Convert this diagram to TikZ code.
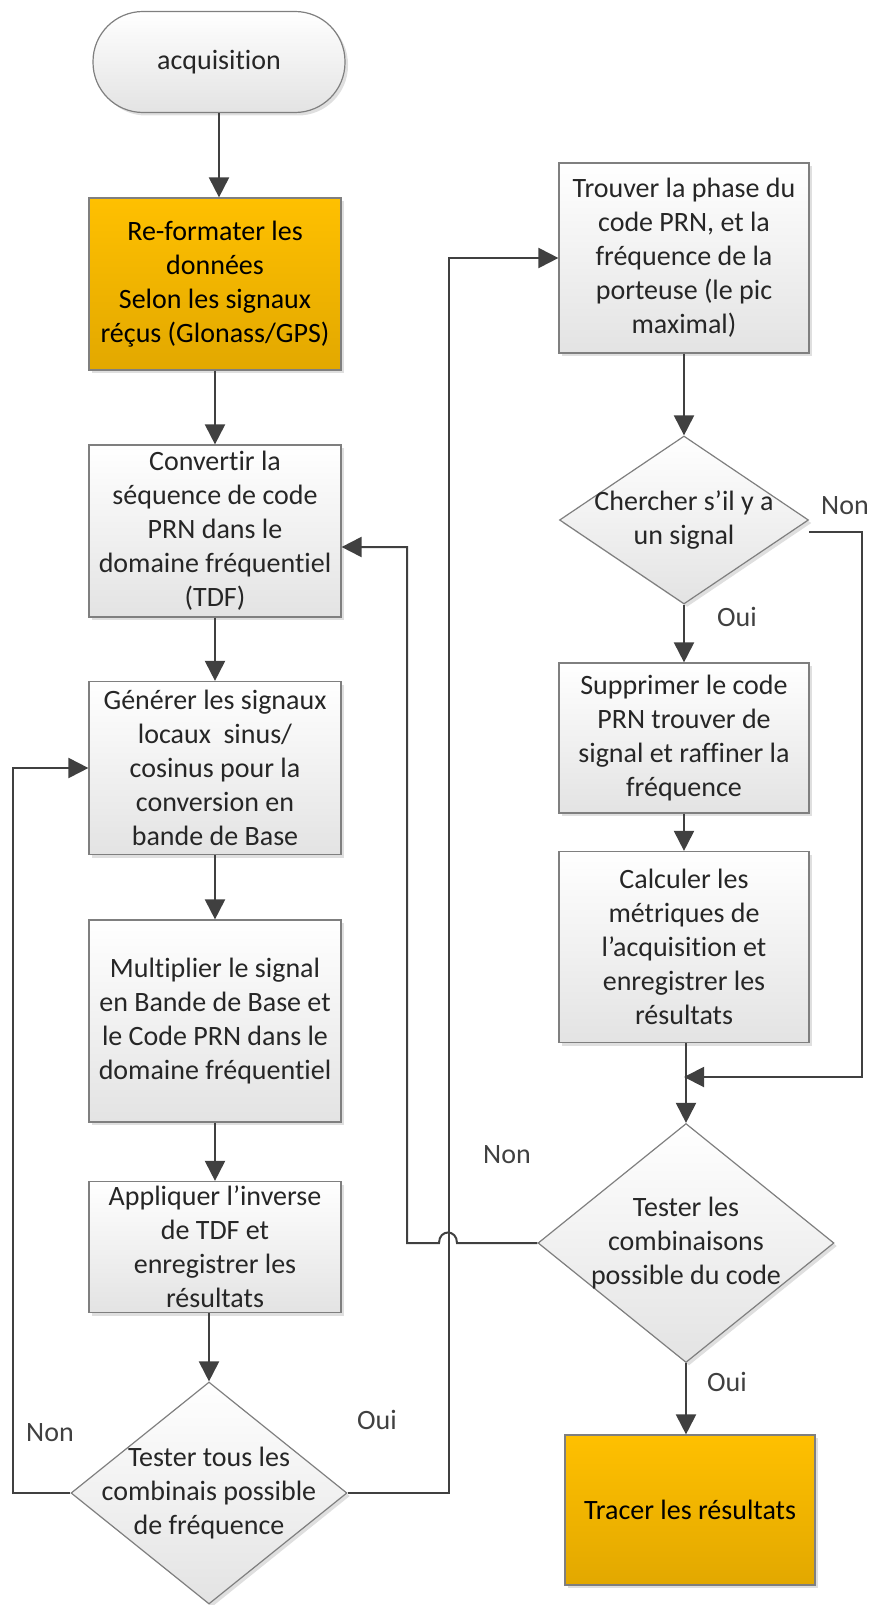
\documentclass[tikz,border=0pt]{standalone}
\usepackage{fontspec}
\setmainfont{Carlito}[Ligatures=NoCommon]
\usepackage{tikz}
\usetikzlibrary{arrows.meta,shapes.geometric,shadows}
\definecolor{linec}{HTML}{404040}
\definecolor{edgec}{HTML}{7F7F7F}
\definecolor{txtc}{HTML}{262626}
\definecolor{orgtop}{HTML}{FFC000}
\definecolor{orgbot}{HTML}{E2A800}
\definecolor{grybot}{HTML}{E3E3E3}
\newcommand{\boxfont}{\fontsize{14pt}{17pt}\selectfont}
\tikzset{
  ar/.style={-{Triangle[length=10pt,width=10pt]},line width=1pt,linec},
  shd/.style={drop shadow={shadow xshift=1.5pt,shadow yshift=-1.5pt,opacity=0.25}},
  box/.style={rectangle,draw=edgec,line width=0.6pt,top color=white,bottom color=grybot,align=center,inner xsep=2pt,inner ysep=0pt,minimum width=126pt,font=\boxfont,text=txtc,shd},
  orbox/.style={box,top color=orgtop,bottom color=orgbot,text=black},
  dec/.style={diamond,draw=edgec,line width=0.6pt,top color=white,bottom color=grybot,inner sep=0pt,shd},
  lab/.style={font=\boxfont,text=linec}
}
\begin{document}
\begin{tikzpicture}[x=0.5pt,y=-0.5pt]
\useasboundingbox (0,0) rectangle (873,1605);
% left column
\node[box,rounded corners=25pt,minimum height=50.5pt] (acq) at (219,62) {acquisition};
\node[orbox,minimum height=86pt] (ref) at (215,284) {Re-formater les\\données\\Selon les signaux\\réçus (Glonass/GPS)};
\node[box,minimum height=86pt] (conv) at (215,531) {Convertir la\\séquence de code\\PRN dans le\\domaine fréquentiel\\(TDF)};
\node[box,minimum height=86.5pt] (gen) at (215,768) {Générer les signaux\\locaux~ sinus/\\cosinus pour la\\conversion en\\bande de Base};
\node[box,minimum height=101pt] (mult) at (215,1021) {Multiplier le signal\\en Bande de Base et\\le Code PRN dans le\\domaine fréquentiel};
\node[box,minimum height=65.5pt] (app) at (215,1247) {Appliquer l’inverse\\de TDF et\\enregistrer les\\résultats};
\node[dec,minimum width=138pt,minimum height=111pt,
  label={[lab,text=txtc,align=center]center:{Tester tous les\\combinais possible\\de fréquence}}] (freq) at (209,1493) {};
% right column
\node[box,minimum width=125pt,minimum height=95pt] (trouv) at (684,258) {Trouver la phase du\\code PRN, et la\\fréquence de la\\porteuse (le pic\\maximal)};
\node[dec,minimum width=124.5pt,minimum height=84pt,
  label={[lab,text=txtc,align=center]center:{Chercher s’il y a\\un signal}}] (cherch) at (684,520) {};
\node[box,minimum width=125pt,minimum height=75pt] (supp) at (684,738) {Supprimer le code\\PRN trouver de\\signal et raffiner la\\fréquence};
\node[box,minimum width=125pt,minimum height=95.5pt] (calc) at (684,947) {Calculer les\\métriques de\\l’acquisition et\\enregistrer les\\résultats};
\node[dec,minimum width=148pt,minimum height=119.5pt,
  label={[lab,text=txtc,align=center]center:{Tester les\\combinaisons\\possible du code}}] (comb) at (686,1243) {};
\node[orbox,minimum width=125pt,minimum height=75pt] (trac) at (690,1510) {Tracer les résultats};
\coordinate (mrg) at (684,1077);
% labels
\node[lab] (non1) at (50,1433) {Non};
\node[lab] (oui1) at (377,1420) {Oui};
\node[lab] (non2) at (845,506) {Non};
\node[lab] (oui2) at (737,617) {Oui};
\node[lab] (non3) at (507,1155) {Non};
\node[lab] (oui3) at (727,1382) {Oui};
% connectors
\draw[ar] (acq.south) -- (acq.south |- ref.north);
\draw[ar] (ref) -- (conv);
\draw[ar] (conv) -- (gen);
\draw[ar] (gen) -- (mult);
\draw[ar] (mult) -- (app);
\draw[ar] (app.south -| freq.north) -- (freq.north);
\draw[ar] (freq.west) -- ++(-57,0) |- (gen.west);
\draw[ar] (freq.east) -- ++(101,0) |- (trouv.west);
\draw[ar] (trouv) -- (cherch);
\draw[ar] (cherch) -- (supp);
\draw[ar] (supp) -- (calc);
\draw[ar] ([yshift=-6pt]cherch.east) -- ++(53,0) |- (mrg);
\draw[ar] (calc.south -| comb.north) -- (comb.north);
\draw[ar] (comb) -- (comb.south |- trac.north);
\draw[ar] (comb.west) -- (457,1243) .. controls (457,1229) and (439,1229) .. (439,1243) -- (407,1243) |- ([yshift=-8pt]conv.east);
\end{tikzpicture}
\end{document}
